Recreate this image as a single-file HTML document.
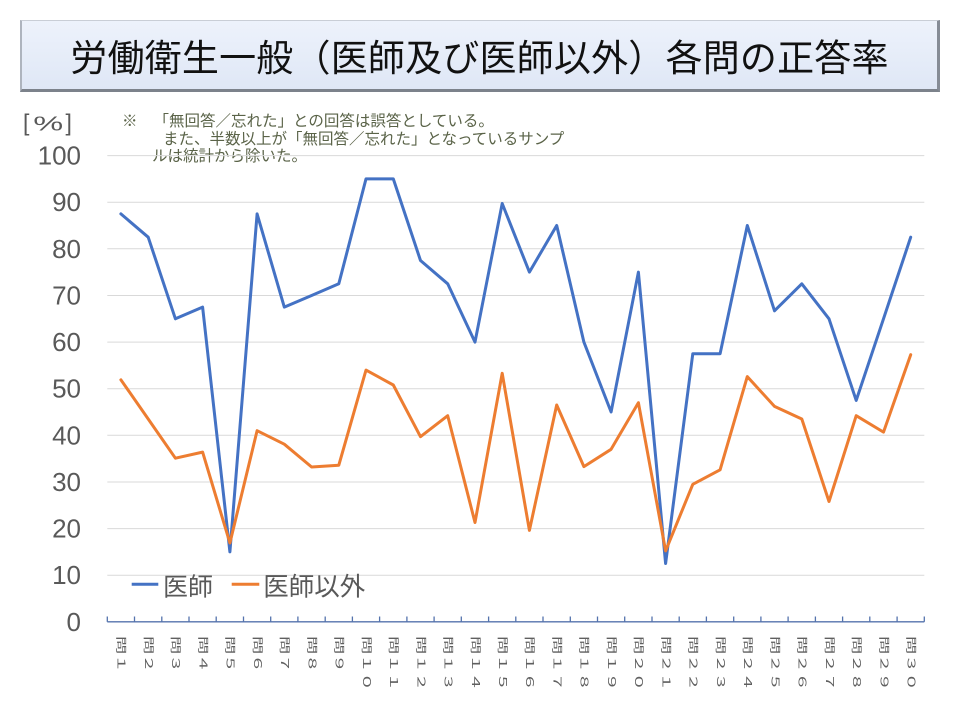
<!DOCTYPE html>
<html lang="ja">
<head>
<meta charset="utf-8">
<style>
  html,body{margin:0;padding:0;background:#fff;}
  body{width:960px;height:720px;overflow:hidden;position:relative;font-family:"Liberation Sans","Noto Sans CJK JP",sans-serif;}
  .title{position:absolute;left:20px;top:20px;width:920px;height:72px;box-sizing:border-box;
    background:linear-gradient(#edf2fb,#dfe7f6);
    border-top:1px solid #c9ced6;border-left:2px solid #aeb4be;border-right:3px solid #868c96;border-bottom:3px solid #7c828b;
    display:flex;align-items:center;justify-content:center;
    font-family:"Liberation Sans","Noto Sans CJK JP",sans-serif;font-size:37px;color:#111;letter-spacing:0.2px;}
</style>
</head>
<body>
<div class="title">労働衛生一般（医師及び医師以外）各問の正答率</div>
<svg width="960" height="720" viewBox="0 0 960 720" style="position:absolute;left:0;top:0" font-family="Liberation Sans, Noto Sans CJK JP, sans-serif">
  <!-- [%] -->
  <g fill="#595959">
    <text x="23" y="130.5" font-size="23">[</text>
    <text x="33.3" y="130.5" font-size="20" textLength="30" lengthAdjust="spacingAndGlyphs">%</text>
    <text x="65.5" y="130.5" font-size="23">]</text>
  </g>
  <!-- notes -->
  <g fill="#5a6348" font-size="15.5" dominant-baseline="central">
    <text x="122" y="121.7">※</text>
    <text x="153.5" y="121.7">「無回答／忘れた」との回答は誤答としている。</text>
    <text x="163" y="139.5">また、半数以上が「無回答／忘れた」となっているサンプ</text>
    <text x="152" y="156.5">ルは統計から除いた。</text>
  </g>
  <!-- gridlines -->
  <g stroke="#d9d9d9" stroke-width="1">
    <line x1="107.3" x2="924.3" y1="575.2" y2="575.2"/>
    <line x1="107.3" x2="924.3" y1="528.6" y2="528.6"/>
    <line x1="107.3" x2="924.3" y1="482.0" y2="482.0"/>
    <line x1="107.3" x2="924.3" y1="435.3" y2="435.3"/>
    <line x1="107.3" x2="924.3" y1="388.7" y2="388.7"/>
    <line x1="107.3" x2="924.3" y1="342.1" y2="342.1"/>
    <line x1="107.3" x2="924.3" y1="295.5" y2="295.5"/>
    <line x1="107.3" x2="924.3" y1="248.8" y2="248.8"/>
    <line x1="107.3" x2="924.3" y1="202.2" y2="202.2"/>
    <line x1="107.3" x2="924.3" y1="155.6" y2="155.6"/>
  </g>
  <!-- y labels -->
  <g fill="#595959" font-size="26" text-anchor="end" dominant-baseline="central">
    <text x="81" y="621.8">0</text>
    <text x="81" y="575.2">10</text>
    <text x="81" y="528.6">20</text>
    <text x="81" y="482.0">30</text>
    <text x="81" y="435.3">40</text>
    <text x="81" y="388.7">50</text>
    <text x="81" y="342.1">60</text>
    <text x="81" y="295.5">70</text>
    <text x="81" y="248.8">80</text>
    <text x="81" y="202.2">90</text>
    <text x="81" y="155.6">100</text>
  </g>
  <!-- x axis -->
  <g stroke="#5473ad" stroke-width="1.3">
    <line x1="107.3" x2="924.3" y1="621.8" y2="621.8"/>
    <line x1="107.3" x2="107.3" y1="616.5" y2="621.8"/>
    <line x1="134.5" x2="134.5" y1="616.5" y2="621.8"/>
    <line x1="161.8" x2="161.8" y1="616.5" y2="621.8"/>
    <line x1="189.0" x2="189.0" y1="616.5" y2="621.8"/>
    <line x1="216.2" x2="216.2" y1="616.5" y2="621.8"/>
    <line x1="243.5" x2="243.5" y1="616.5" y2="621.8"/>
    <line x1="270.7" x2="270.7" y1="616.5" y2="621.8"/>
    <line x1="297.9" x2="297.9" y1="616.5" y2="621.8"/>
    <line x1="325.2" x2="325.2" y1="616.5" y2="621.8"/>
    <line x1="352.4" x2="352.4" y1="616.5" y2="621.8"/>
    <line x1="379.6" x2="379.6" y1="616.5" y2="621.8"/>
    <line x1="406.9" x2="406.9" y1="616.5" y2="621.8"/>
    <line x1="434.1" x2="434.1" y1="616.5" y2="621.8"/>
    <line x1="461.3" x2="461.3" y1="616.5" y2="621.8"/>
    <line x1="488.6" x2="488.6" y1="616.5" y2="621.8"/>
    <line x1="515.8" x2="515.8" y1="616.5" y2="621.8"/>
    <line x1="543.0" x2="543.0" y1="616.5" y2="621.8"/>
    <line x1="570.3" x2="570.3" y1="616.5" y2="621.8"/>
    <line x1="597.5" x2="597.5" y1="616.5" y2="621.8"/>
    <line x1="624.7" x2="624.7" y1="616.5" y2="621.8"/>
    <line x1="652.0" x2="652.0" y1="616.5" y2="621.8"/>
    <line x1="679.2" x2="679.2" y1="616.5" y2="621.8"/>
    <line x1="706.4" x2="706.4" y1="616.5" y2="621.8"/>
    <line x1="733.7" x2="733.7" y1="616.5" y2="621.8"/>
    <line x1="760.9" x2="760.9" y1="616.5" y2="621.8"/>
    <line x1="788.1" x2="788.1" y1="616.5" y2="621.8"/>
    <line x1="815.4" x2="815.4" y1="616.5" y2="621.8"/>
    <line x1="842.6" x2="842.6" y1="616.5" y2="621.8"/>
    <line x1="869.8" x2="869.8" y1="616.5" y2="621.8"/>
    <line x1="897.1" x2="897.1" y1="616.5" y2="621.8"/>
    <line x1="924.3" x2="924.3" y1="616.5" y2="621.8"/>
  </g>
  <!-- x labels (rotated) -->
  <g fill="#5f5f5f" font-size="15" dominant-baseline="central">
    <text transform="translate(120.9,636) rotate(90) scale(1.22,0.72)">問１</text>
    <text transform="translate(148.2,636) rotate(90) scale(1.22,0.72)">問２</text>
    <text transform="translate(175.4,636) rotate(90) scale(1.22,0.72)">問３</text>
    <text transform="translate(202.6,636) rotate(90) scale(1.22,0.72)">問４</text>
    <text transform="translate(229.9,636) rotate(90) scale(1.22,0.72)">問５</text>
    <text transform="translate(257.1,636) rotate(90) scale(1.22,0.72)">問６</text>
    <text transform="translate(284.3,636) rotate(90) scale(1.22,0.72)">問７</text>
    <text transform="translate(311.6,636) rotate(90) scale(1.22,0.72)">問８</text>
    <text transform="translate(338.8,636) rotate(90) scale(1.22,0.72)">問９</text>
    <text transform="translate(366.0,636) rotate(90) scale(1.22,0.72)">問１０</text>
    <text transform="translate(393.3,636) rotate(90) scale(1.22,0.72)">問１１</text>
    <text transform="translate(420.5,636) rotate(90) scale(1.22,0.72)">問１２</text>
    <text transform="translate(447.7,636) rotate(90) scale(1.22,0.72)">問１３</text>
    <text transform="translate(475.0,636) rotate(90) scale(1.22,0.72)">問１４</text>
    <text transform="translate(502.2,636) rotate(90) scale(1.22,0.72)">問１５</text>
    <text transform="translate(529.4,636) rotate(90) scale(1.22,0.72)">問１６</text>
    <text transform="translate(556.7,636) rotate(90) scale(1.22,0.72)">問１７</text>
    <text transform="translate(583.9,636) rotate(90) scale(1.22,0.72)">問１８</text>
    <text transform="translate(611.1,636) rotate(90) scale(1.22,0.72)">問１９</text>
    <text transform="translate(638.4,636) rotate(90) scale(1.22,0.72)">問２０</text>
    <text transform="translate(665.6,636) rotate(90) scale(1.22,0.72)">問２１</text>
    <text transform="translate(692.8,636) rotate(90) scale(1.22,0.72)">問２２</text>
    <text transform="translate(720.1,636) rotate(90) scale(1.22,0.72)">問２３</text>
    <text transform="translate(747.3,636) rotate(90) scale(1.22,0.72)">問２４</text>
    <text transform="translate(774.5,636) rotate(90) scale(1.22,0.72)">問２５</text>
    <text transform="translate(801.8,636) rotate(90) scale(1.22,0.72)">問２６</text>
    <text transform="translate(829.0,636) rotate(90) scale(1.22,0.72)">問２７</text>
    <text transform="translate(856.2,636) rotate(90) scale(1.22,0.72)">問２８</text>
    <text transform="translate(883.5,636) rotate(90) scale(1.22,0.72)">問２９</text>
    <text transform="translate(910.7,636) rotate(90) scale(1.22,0.72)">問３０</text>
  </g>
  <!-- series: 医師 -->
  <polyline fill="none" stroke="#4472C4" stroke-width="3" stroke-linejoin="round" stroke-linecap="round"
    points="120.9,213.9 148.2,237.2 175.4,318.8 202.6,307.1 229.9,551.9 257.1,213.9 284.3,307.1 311.6,295.5 338.8,283.8 366.0,178.9 393.3,178.9 420.5,260.5 447.7,283.8 475.0,342.1 502.2,203.5 529.4,272.1 556.7,225.5 583.9,342.1 611.1,412.0 638.4,272.1 665.6,563.5 692.8,353.7 720.1,353.7 747.3,225.5 774.5,310.8 801.8,283.8 829.0,318.8 856.2,400.4 883.5,318.8 910.7,237.2"/>
  <!-- series: 医師以外 -->
  <polyline fill="none" stroke="#ED7D31" stroke-width="3" stroke-linejoin="round" stroke-linecap="round"
    points="120.9,379.8 148.2,419.0 175.4,458.2 202.6,452.1 229.9,543.0 257.1,430.7 284.3,444.2 311.6,467.0 338.8,465.2 366.0,370.1 393.3,385.0 420.5,436.7 447.7,415.7 475.0,522.5 502.2,373.3 529.4,530.4 556.7,405.0 583.9,466.6 611.1,449.3 638.4,402.7 665.6,550.9 692.8,484.3 720.1,469.8 747.3,376.6 774.5,406.4 801.8,419.0 829.0,501.5 856.2,415.7 883.5,432.1 910.7,354.7"/>
  <!-- legend -->
  <line x1="131.7" x2="158.3" y1="584.3" y2="584.3" stroke="#4472C4" stroke-width="3"/>
  <text x="163" y="587.5" font-size="25" fill="#595959" dominant-baseline="central">医師</text>
  <line x1="231.7" x2="259.3" y1="584.3" y2="584.3" stroke="#ED7D31" stroke-width="3"/>
  <text x="263.3" y="587.5" font-size="25.5" fill="#595959" dominant-baseline="central">医師以外</text>
</svg>
</body>
</html>
